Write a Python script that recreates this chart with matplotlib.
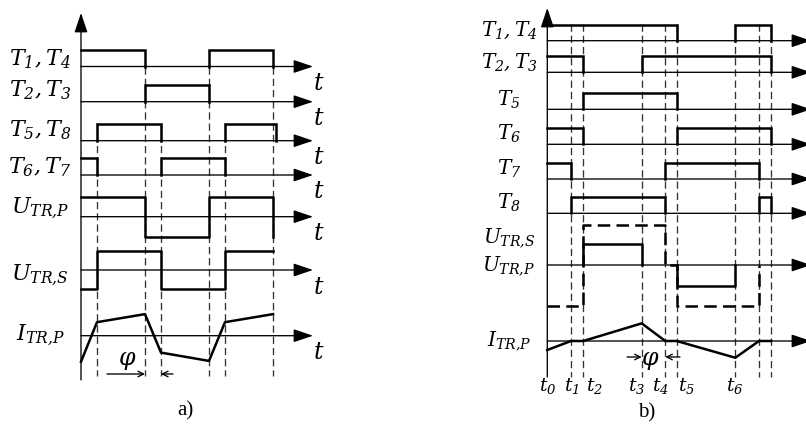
import numpy as np
import matplotlib
matplotlib.use('Agg')
import matplotlib.pyplot as plt

plt.rcParams['mathtext.fontset'] = 'custom'
plt.rcParams['mathtext.it'] = 'DejaVu Serif:italic'
plt.rcParams['mathtext.rm'] = 'DejaVu Serif:italic'
plt.rcParams['font.family'] = ['DejaVu Serif']

# ---------------- data: panel a) ----------------
a_labels = [r'$T_1, T_4$', r'$T_2, T_3$', r'$T_5, T_8$', r'$T_6, T_7$',
            r'$U_{TR{,}P}$', r'$U_{TR{,}S}$', r'$I_{TR{,}P}$']
a_pulses = [[(0, 4), (8, 12)], [(4, 8)], [(1, 5), (9, 12.2)], [(0, 1), (5, 9)]]
a_edges = [1, 4, 5, 8, 9, 12]
a_up_t = [0, 4, 4, 8, 8, 12, 12]
a_up_v = [1, 1, -1, -1, 1, 1, -1]
a_us_t = [0, 1, 1, 5, 5, 9, 9, 12]
a_us_v = [-1, -1, 1, 1, -1, -1, 1, 1]
a_i_t = [0, 1, 4, 5, 8, 9, 12]
a_i_v = [-1.0, 0.52, 0.83, -0.65, -0.97, 0.52, 0.83]

# ---------------- data: panel b) ----------------
b_t = [0, 2.37, 3.6, 9.44, 11.8, 12.94, 18.8, 21.17, 22.37]   # t0 .. t8
b_tick_labels = [r'$t_0$', r'$t_1$', r'$t_2$', r'$t_3$', r'$t_4$', r'$t_5$', r'$t_6$']
b_labels = [r'$T_1, T_4$', r'$T_2, T_3$', r'$T_5$', r'$T_6$', r'$T_7$', r'$T_8$',
            r'$U_{TR{,}S}$', r'$U_{TR{,}P}$', r'$I_{TR{,}P}$']
# pulses given as index pairs into b_t
b_pulses = [[(0, 5), (6, 8)], [(0, 2), (3, 8)], [(2, 5)], [(0, 2), (5, 8)],
            [(0, 1), (4, 7)], [(1, 4), (7, 8)]]
b_us_i = [0, 2, 2, 4, 4, 5, 5, 7, 7]
b_us_v = [-1, -1, 1, 1, 0, 0, -1, -1, 0]
b_up_pulses = [(2, 3, 0.52), (5, 6, -0.52)]
b_i_v = [-0.5, 0, 0, 0.98, 0, 0, -0.93, 0, 0]

# ---------------- layout ----------------
W, H = 806, 426
fig = plt.figure(figsize=(W / 100, H / 100), dpi=100)
THICK = 1.8
THIN = 0.95
dash_thin = (0, (5.5, 3))


def arrow(ax, x0, y0, x1, y1):
    ax.annotate('', xy=(x1, y1), xytext=(x0, y0),
                arrowprops=dict(arrowstyle='-|>,head_length=0.8,head_width=0.27',
                                mutation_scale=15, lw=THIN, color='k',
                                shrinkA=0, shrinkB=0), annotation_clip=False)


def pulse(ax, a, b, base, h):
    if a == 0:
        xs, ys = [a, b, b], [base - h, base - h, base]
    else:
        xs, ys = [a, a, b, b], [base, base - h, base - h, base]
    ax.plot(xs, ys, color='k', lw=THICK, solid_joinstyle='miter')


# panel a axes: 16 px per time unit, t=0 at x=81 px; y in pixels
axa = fig.add_axes([0, 0, 330 / W, 1])
axa.set_xlim((0 - 81) / 16, (330 - 81) / 16)
axa.set_ylim(H, 0)
axa.axis('off')

a_base = [66.5, 101.7, 140.7, 175, 216.7, 270, 335.7]
a_lab_y = [65, 96.5, 136.5, 173, 213, 280, 340]
a_dash_top = [123, 66.5, 123, 66.5, 123, 66.5]
a_tip = 14.5

arrow(axa, 0, 380, 0, 13)
for yb in a_base:
    arrow(axa, 0, yb, a_tip, yb)
    axa.text(14.85, yb + 17, r'$t$', fontsize=17, ha='center', va='center')
for i, lab in enumerate(a_labels):
    axa.text((40 - 81) / 16, a_lab_y[i], lab, fontsize=16, ha='center', va='baseline')
for x, top in zip(a_edges, a_dash_top):
    axa.plot([x, x], [top, 376], color='#333333', lw=THIN, linestyle=dash_thin)
for i, pl in enumerate(a_pulses):
    for a, b in pl:
        pulse(axa, a, b, a_base[i], 17)
axa.plot(a_up_t, a_base[4] - 20 * np.array(a_up_v), color='k', lw=THICK)
axa.plot(a_us_t, a_base[5] - 19 * np.array(a_us_v), color='k', lw=THICK)
axa.plot(a_i_t, a_base[6] - 26 * np.array(a_i_v), color='k', lw=THICK)
axa.text((127 - 81) / 16, 360, r'$\varphi$', fontsize=17, ha='center', va='center')
axa.annotate('', xy=(4, 374), xytext=((107 - 81) / 16, 374),
             arrowprops=dict(arrowstyle='->', lw=THIN, shrinkA=0, shrinkB=0))
axa.annotate('', xy=(5, 374), xytext=((173 - 81) / 16, 374),
             arrowprops=dict(arrowstyle='->', lw=THIN, shrinkA=0, shrinkB=0))
axa.text((185 - 81) / 16, 411, 'a)', fontsize=15, family='Liberation Serif',
         ha='center', va='center')

# panel b axes: 10 px per time unit, t0 at x=547.3 px
axb = fig.add_axes([440 / W, 0, (W - 440) / W, 1])
axb.set_xlim((440 - 547.3) / 10, (W - 547.3) / 10)
axb.set_ylim(H, 0)
axb.axis('off')

b_base = [40.7, 72.3, 109.3, 144.3, 179, 213.3, 265, 341]
b_lab_y = [35.5, 68, 106, 140, 175, 208.5, 241.5, 269.5, 345]
b_tip = (811 - 547.3) / 10
b_lab_x = (509 - 547.3) / 10

arrow(axb, 0, 377, 0, 8)
for yb in b_base:
    arrow(axb, 0, yb, b_tip, yb)
for i, lab in enumerate(b_labels):
    axb.text(b_lab_x, b_lab_y[i], lab, fontsize=14.5, ha='center', va='baseline')
for x in b_t[1:]:
    axb.plot([x, x], [24, 377], color='#333333', lw=THIN, linestyle=dash_thin)
for i, pl in enumerate(b_pulses):
    for a, b in pl:
        pulse(axb, b_t[a], b_t[b], b_base[i], 16)
axb.plot([b_t[k] for k in b_us_i], b_base[6] - 40.5 * np.array(b_us_v),
         color='k', lw=THICK, linestyle=(0, (5, 2.5)))
for a, b, v in b_up_pulses:
    axb.plot([b_t[a], b_t[a], b_t[b], b_t[b]],
             [b_base[6], b_base[6] - 40.5 * v, b_base[6] - 40.5 * v, b_base[6]],
             color='k', lw=THICK)
axb.plot(b_t, b_base[7] - 18 * np.array(b_i_v), color='k', lw=THICK)
b_tick_x = [548, 572, 595, 637, 660, 687, 735]
for x, lab in zip(b_tick_x, b_tick_labels):
    axb.text((x - 547.3) / 10, 386, lab, fontsize=13.5, ha='center', va='center')
axb.text((650 - 547.3) / 10, 361, r'$\varphi$', fontsize=17, ha='center', va='center')
axb.annotate('', xy=(b_t[3], 357), xytext=((627 - 547.3) / 10, 357),
             arrowprops=dict(arrowstyle='->', lw=THIN, shrinkA=0, shrinkB=0))
axb.annotate('', xy=(b_t[4], 357), xytext=((680 - 547.3) / 10, 357),
             arrowprops=dict(arrowstyle='->', lw=THIN, shrinkA=0, shrinkB=0))
axb.text((647 - 547.3) / 10, 413, 'b)', fontsize=15, family='Liberation Serif',
         ha='center', va='center')

fig.savefig('out.png', dpi=100)
